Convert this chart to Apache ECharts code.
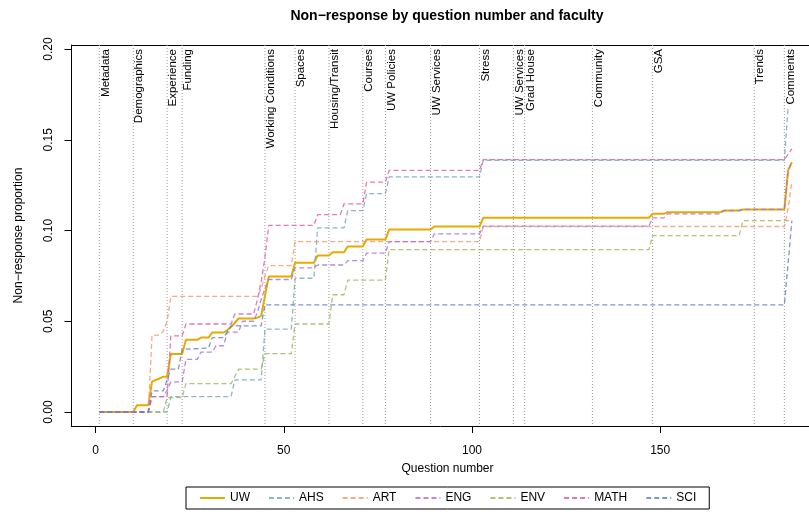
<!DOCTYPE html>
<html>
<head>
<meta charset="utf-8">
<script src="https://cdn.jsdelivr.net/npm/echarts@6/dist/echarts.min.js"></script>
<style>
  html, body { margin: 0; padding: 0; background: #fff; }
  #chart { width: 809px; height: 514px; }
</style>
</head>
<body>
<div id="chart"></div>
<script>
// Section boundaries: first question number of each survey section
const sectionNames = ['Metadata', 'Demographics', 'Experience', 'Funding', 'Working Conditions',
  'Spaces', 'Housing/Transit', 'Courses', 'UW Policies', 'UW Services', 'Stress',
  'UW Services', 'Grad House', 'Community', 'GSA', 'Trends', 'Comments'];
const sectionStart = [1, 10, 19, 23, 45, 53, 62, 71, 77, 89, 102, 111, 114, 132, 148, 175, 183];

// Cumulative non-response proportion: [question number, proportion]
const uw = [[1,0],[10,0],[11,0.0037],[14,0.0037],[15,0.0167],[16,0.0177],[17,0.0185],[18,0.0195],[19,0.0195],
  [20,0.0319],[23,0.0319],[24,0.0398],[27,0.0398],[28,0.041],[30,0.041],[31,0.0438],[34,0.0438],[35,0.0451],
  [36,0.047],[37,0.0492],[38,0.0515],[42,0.0515],[43,0.052],[44,0.053],[45,0.064],[46,0.0746],[52,0.0746],
  [53,0.0822],[58,0.0822],[59,0.0862],[62,0.0862],[63,0.088],[66,0.088],[67,0.0912],[71,0.0912],[72,0.095],
  [77,0.095],[78,0.1006],[89,0.1006],[90,0.1022],[102,0.1022],[103,0.107],[147,0.107],[148,0.1092],[151,0.1092],
  [152,0.1101],[166,0.1101],[167,0.111],[171,0.111],[172,0.1116],[183,0.1116],[184,0.1331],[185,0.1377]];
const ahs = [[1,0],[19,0],[20,0.0085],[36,0.0085],[37,0.0177],[44,0.0177],[45,0.0457],[52,0.0457],[53,0.0737],
  [58,0.0737],[59,0.1015],[66,0.1015],[67,0.1109],[71,0.1109],[72,0.1203],[77,0.1203],[78,0.1295],[102,0.1295],
  [103,0.1387],[183,0.1387],[184,0.168]];
const art = [[1,0],[14,0],[15,0.0424],[17,0.0424],[18,0.0445],[19,0.05],[20,0.0637],[43,0.0637],[44,0.068],
  [45,0.075],[46,0.0807],[52,0.0807],[53,0.0939],[102,0.0939],[103,0.1022],[183,0.1022],[184,0.112],[185,0.127]];
const eng = [[1,0],[14,0],[15,0.0085],[18,0.0085],[19,0.012],[20,0.0166],[23,0.0166],[24,0.029],[27,0.029],
  [28,0.033],[31,0.033],[32,0.0365],[34,0.0365],[35,0.044],[38,0.044],[39,0.05],[42,0.05],[43,0.055],[44,0.062],
  [45,0.068],[46,0.073],[52,0.073],[53,0.0794],[58,0.0794],[59,0.081],[66,0.081],[67,0.0834],[71,0.0834],
  [72,0.0875],[77,0.0875],[78,0.0939],[89,0.0939],[90,0.0982],[102,0.0982],[103,0.1024],[147,0.1024],[148,0.107],
  [151,0.107],[152,0.1092],[166,0.1092],[167,0.111],[171,0.111],[172,0.1116],[183,0.1116],[184,0.133],[185,0.1375]];
const env = [[1,0],[18,0],[19,0.0079],[23,0.0079],[24,0.0156],[36,0.0156],[38,0.0236],[44,0.0236],[45,0.0322],
  [52,0.0322],[53,0.0485],[62,0.0485],[63,0.0646],[66,0.0646],[67,0.0727],[77,0.0727],[78,0.0895],[147,0.0895],
  [148,0.0972],[171,0.0972],[172,0.1055],[185,0.1055]];
const math = [[1,0],[14,0],[15,0.0085],[19,0.0085],[20,0.042],[23,0.042],[24,0.0485],[36,0.0485],[37,0.054],
  [42,0.054],[43,0.062],[44,0.072],[45,0.085],[46,0.1028],[58,0.1028],[59,0.1087],[65,0.1087],[66,0.1147],
  [71,0.1147],[72,0.1267],[77,0.1267],[78,0.1331],[102,0.1331],[103,0.139],[183,0.139],[185,0.145]];
const sci = [[1,0],[14,0],[15,0.0116],[18,0.0116],[20,0.0236],[22,0.0236],[23,0.0346],[30,0.0352],[31,0.041],
  [34,0.041],[36,0.0475],[44,0.0475],[45,0.059],[183,0.059],[184,0.082],[185,0.1055]];

const xTicks = [0, 50, 100, 150];
const yTicks = [0, 0.05, 0.10, 0.15, 0.20];

const FONT = '"Liberation Sans", Arial, Helvetica, sans-serif';

const faculties = [
  { name: 'UW',   data: uw,   color: '#E6AB02', width: 2,   dashed: false },
  { name: 'AHS',  data: ahs,  color: '#6BA8B4', width: 1.3, dashed: true },
  { name: 'ART',  data: art,  color: '#F7946A', width: 1.3, dashed: true },
  { name: 'ENG',  data: eng,  color: '#A86BD6', width: 1.3, dashed: true },
  { name: 'ENV',  data: env,  color: '#9DB35A', width: 1.3, dashed: true },
  { name: 'MATH', data: math, color: '#E2559F', width: 1.3, dashed: true },
  { name: 'SCI',  data: sci,  color: '#5C7DC9', width: 1.3, dashed: true }
];

const chart = echarts.init(document.getElementById('chart'), null, { renderer: 'canvas' });

// Dotted section dividers with their rotated names
const sectionSeries = {
  type: 'custom',
  silent: true,
  clip: false,
  z: 1,
  data: sectionStart.map(q => [q, 0]),
  encode: { x: 0, y: 1 },
  renderItem: function (params, api) {
    const x = api.coord([api.value(0), 0])[0];
    const cs = params.coordSys;
    return {
      type: 'group',
      children: [
        {
          type: 'line',
          shape: { x1: x, y1: cs.y, x2: x, y2: cs.y + cs.height },
          style: { stroke: '#9a9a9a', lineWidth: 1, lineDash: [1, 2] }
        },
        {
          type: 'text',
          x: x,
          y: cs.y + 4,
          rotation: Math.PI / 2,
          style: {
            text: sectionNames[params.dataIndex],
            fill: '#000',
            font: '11.5px ' + FONT,
            align: 'right',
            verticalAlign: 'top'
          }
        }
      ]
    };
  }
};

const lineSeries = faculties.map((f, i) => ({
  type: 'line',
  name: f.name,
  data: f.data,
  color: f.color,
  symbol: 'none',
  showSymbol: false,
  z: 2 + i,
  lineStyle: {
    color: f.color,
    width: f.width,
    type: f.dashed ? [5, 3] : 'solid',
    opacity: f.dashed ? 0.8 : 1
  }
}));

const frameLine = { show: true, onZero: false, lineStyle: { color: '#000', width: 1 } };

chart.setOption({
  animation: false,
  backgroundColor: '#fff',
  textStyle: { fontFamily: FONT },
  title: {
    text: 'Non\u2212response by question number and faculty',
    left: 447,
    top: 9,
    padding: 0,
    textAlign: 'center',
    textStyle: { fontSize: 14, fontWeight: 'bold', color: '#000', fontFamily: FONT }
  },
  grid: {
    show: false,
    left: 71.5,
    top: 45,
    width: 752,
    height: 381,
    containLabel: false,
    outerBoundsMode: 'none'
  },
  legend: {
    data: faculties.map(f => f.name),
    left: 186,
    top: 487,
    orient: 'horizontal',
    itemWidth: 25,
    itemHeight: 12,
    itemGap: 18,
    padding: [5, 13],
    borderColor: '#000',
    borderWidth: 1,
    borderRadius: 0,
    selectedMode: false,
    itemStyle: { color: 'transparent', borderWidth: 0, opacity: 0 },
    textStyle: { fontSize: 12, color: '#000', fontFamily: FONT }
  },
  xAxis: [
    {
      type: 'value',
      position: 'bottom',
      min: -6.4,
      max: 193.4,
      name: 'Question number',
      nameLocation: 'middle',
      nameGap: 37,
      nameTextStyle: { fontSize: 12, color: '#000', fontFamily: FONT },
      axisLine: frameLine,
      splitLine: { show: false },
      axisTick: { show: true, inside: false, length: 7, customValues: xTicks, lineStyle: { color: '#000' } },
      axisLabel: { customValues: xTicks, fontSize: 12, color: '#000', margin: 19, fontFamily: FONT }
    },
    {
      type: 'value',
      position: 'top',
      min: -6.4,
      max: 193.4,
      axisLine: frameLine,
      splitLine: { show: false },
      axisTick: { show: false },
      axisLabel: { show: false }
    }
  ],
  yAxis: {
    type: 'value',
    min: -0.0077,
    max: 0.2022,
    name: 'Non\u2212response proportion',
    nameLocation: 'middle',
    nameRotate: 90,
    nameGap: 47,
    nameTextStyle: { fontSize: 12, color: '#000', fontFamily: FONT },
    axisLine: frameLine,
    splitLine: { show: false },
    axisTick: { show: true, inside: false, length: 7, customValues: yTicks, lineStyle: { color: '#000' } },
    axisLabel: {
      customValues: yTicks,
      rotate: 90,
      fontSize: 12,
      color: '#000',
      margin: 17,
      fontFamily: FONT,
      formatter: v => v.toFixed(2)
    }
  },
  series: [sectionSeries].concat(lineSeries)
});
</script>
</body>
</html>
